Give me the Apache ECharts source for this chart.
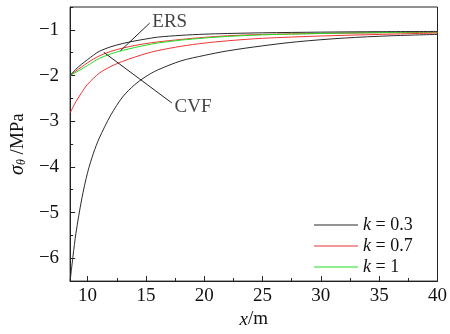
<!DOCTYPE html>
<html><head><meta charset="utf-8">
<script src="https://cdn.jsdelivr.net/npm/echarts@6/dist/echarts.min.js"></script>
<style>html,body{margin:0;padding:0;background:#fff}#c{width:450px;height:334px}</style>
</head><body><div id="c"></div>
<script>
// Data (x in m, sigma in MPa)
const xMajorTicks = [10, 15, 20, 25, 30, 35, 40];
const xMinorTicks = [12.5, 17.5, 22.5, 27.5, 32.5, 37.5];
const yMajorTicks = [-6, -5, -4, -3, -2, -1];
const yMinorTicks = [-6.5, -5.5, -4.5, -3.5, -2.5, -1.5, -0.5];

const k03_ERS = [[8.5,-2.0],[9,-1.86],[9.5,-1.75],[10,-1.65],[10.5,-1.555],[11,-1.47],[12,-1.37],[13,-1.30],[14,-1.245],[15,-1.20],[16,-1.16],[18,-1.12],[20,-1.095],[22,-1.08],[25,-1.065],[30,-1.05],[35,-1.04],[40,-1.035]];
const k07_ERS = [[8.5,-2.0],[9,-1.9],[9.5,-1.81],[10,-1.72],[10.5,-1.64],[11,-1.57],[12,-1.47],[13,-1.40],[14,-1.345],[15,-1.30],[16,-1.265],[18,-1.21],[20,-1.165],[22,-1.13],[25,-1.10],[30,-1.08],[35,-1.065],[40,-1.055]];
const k1_ERS = [[8.5,-2.0],[9,-1.93],[9.5,-1.855],[10,-1.78],[10.5,-1.70],[11,-1.625],[12,-1.525],[13,-1.45],[14,-1.39],[15,-1.335],[16,-1.29],[18,-1.225],[20,-1.18],[22,-1.145],[25,-1.11],[30,-1.08],[35,-1.06],[40,-1.045]];
const k07_CVF = [[8.5,-2.82],[9,-2.57],[9.5,-2.37],[10,-2.19],[11,-1.95],[12,-1.80],[13,-1.69],[14,-1.60],[15,-1.52],[16,-1.455],[18,-1.36],[20,-1.29],[22,-1.24],[25,-1.185],[30,-1.135],[35,-1.10],[40,-1.07]];
const k03_CVF = [[8.5,-6.5],[8.75,-5.95],[9,-5.45],[9.5,-4.7],[10,-4.12],[10.5,-3.70],[11,-3.37],[12,-2.86],[13,-2.47],[14,-2.21],[15,-2.02],[16,-1.88],[18,-1.68],[20,-1.56],[22,-1.46],[25,-1.35],[28,-1.26],[32,-1.18],[36,-1.13],[40,-1.1]];

const leaderERS = [[15.32,-0.853],[12.82,-1.456]];
const leaderCVF = [[11.38,-1.49],[17.22,-2.60]];
const annoLabels = [{name:'ERS', value:[15.55,-0.83]}, {name:'CVF', value:[17.45,-2.68]}];

const FONT = 'Liberation Serif';
const chart = echarts.init(document.getElementById('c'), null, {renderer:'canvas'});
const minus = v => String(v).replace('-', '\u2212');

function line(name, data, color) {
  return {type:'line', name, data, smooth:0.3, showSymbol:false, symbol:'none',
    lineStyle:{color, width:1}, itemStyle:{color}, z:3};
}

chart.setOption({
  animation:false,
  textStyle:{fontFamily:FONT},
  grid:{left:58, right:7, top:7, bottom:42, show:true, borderColor:'#222', borderWidth:1},
  legend:{
    data:['k=0.3','k=0.7','k=1'],
    orient:'vertical', left:309, top:211, itemGap:3,
    itemWidth:44, itemHeight:1.2, icon:'rect',
    formatter: n => '{i|k}{n| = ' + n.split('=')[1] + '}',
    textStyle:{fontFamily:FONT, fontSize:18, color:'#111', padding:[0,0,0,0],
      rich:{i:{fontFamily:FONT, fontStyle:'italic', fontSize:18, color:'#111'}, n:{fontFamily:FONT, fontSize:18, color:'#111'}}}
  },
  xAxis:[{
    type:'value', min:8.5, max:40, position:'bottom',
    name:'{i|x}{n|/m}', nameLocation:'middle', nameGap:21,
    nameTextStyle:{fontFamily:FONT, rich:{i:{fontFamily:FONT, fontStyle:'italic', fontSize:19, color:'#111'}, n:{fontFamily:FONT, fontSize:19, color:'#111'}}},
    axisLine:{show:true, lineStyle:{color:'#222', width:1}},
    axisTick:{show:true, inside:true, length:5, customValues:xMajorTicks, lineStyle:{color:'#222'}},
    axisLabel:{customValues:xMajorTicks, fontFamily:FONT, fontSize:19, color:'#111', margin:5},
    splitLine:{show:false}
  },{
    type:'value', min:8.5, max:40, position:'bottom',
    axisLine:{show:false},
    axisTick:{show:true, inside:true, length:3, customValues:xMinorTicks, lineStyle:{color:'#222'}},
    axisLabel:{show:false}, splitLine:{show:false}
  }],
  yAxis:[{
    type:'value', min:-6.5, max:-0.5, position:'left',
    name:'{i|σ}{s|θ}{n| /MPa}', nameLocation:'middle', nameGap:33, nameRotate:90,
    nameTextStyle:{fontFamily:FONT, rich:{i:{fontFamily:FONT, fontStyle:'italic', fontSize:20, color:'#111'}, s:{fontFamily:FONT, fontStyle:'italic', fontSize:12, color:'#111', verticalAlign:'bottom', padding:[8,0,0,0]}, n:{fontFamily:FONT, fontSize:19, color:'#111'}}},
    axisLine:{show:true, lineStyle:{color:'#222', width:1}},
    axisTick:{show:true, inside:true, length:5, customValues:yMajorTicks, lineStyle:{color:'#222'}},
    axisLabel:{customValues:yMajorTicks, formatter:minus, fontFamily:FONT, fontSize:19, color:'#111', margin:11},
    splitLine:{show:false}
  },{
    type:'value', min:-6.5, max:-0.5, position:'left',
    axisLine:{show:false},
    axisTick:{show:true, inside:true, length:3, customValues:yMinorTicks, lineStyle:{color:'#222'}},
    axisLabel:{show:false}, splitLine:{show:false}
  }],
  series:[
    line('k=0.3', k03_CVF, '#2a2a2a'),
    line('k=0.7', k07_CVF, '#ee3333'),
    line('k=0.7', k07_ERS, '#ee3333'),
    line('k=1', k1_ERS, '#22dd22'),
    line('k=0.3', k03_ERS, '#2a2a2a'),
    {type:'line', name:'leader1', data:leaderERS, showSymbol:false, symbol:'none', lineStyle:{color:'#222', width:1}, silent:true, z:4},
    {type:'line', name:'leader2', data:leaderCVF, showSymbol:false, symbol:'none', lineStyle:{color:'#222', width:1}, silent:true, z:4},
    {type:'scatter', name:'anno', data:annoLabels, symbolSize:0, silent:true,
      label:{show:true, position:'right', distance:0, formatter:p => p.name, fontFamily:FONT, fontSize:19, color:'#111'}}
  ]
});
</script></body></html>
